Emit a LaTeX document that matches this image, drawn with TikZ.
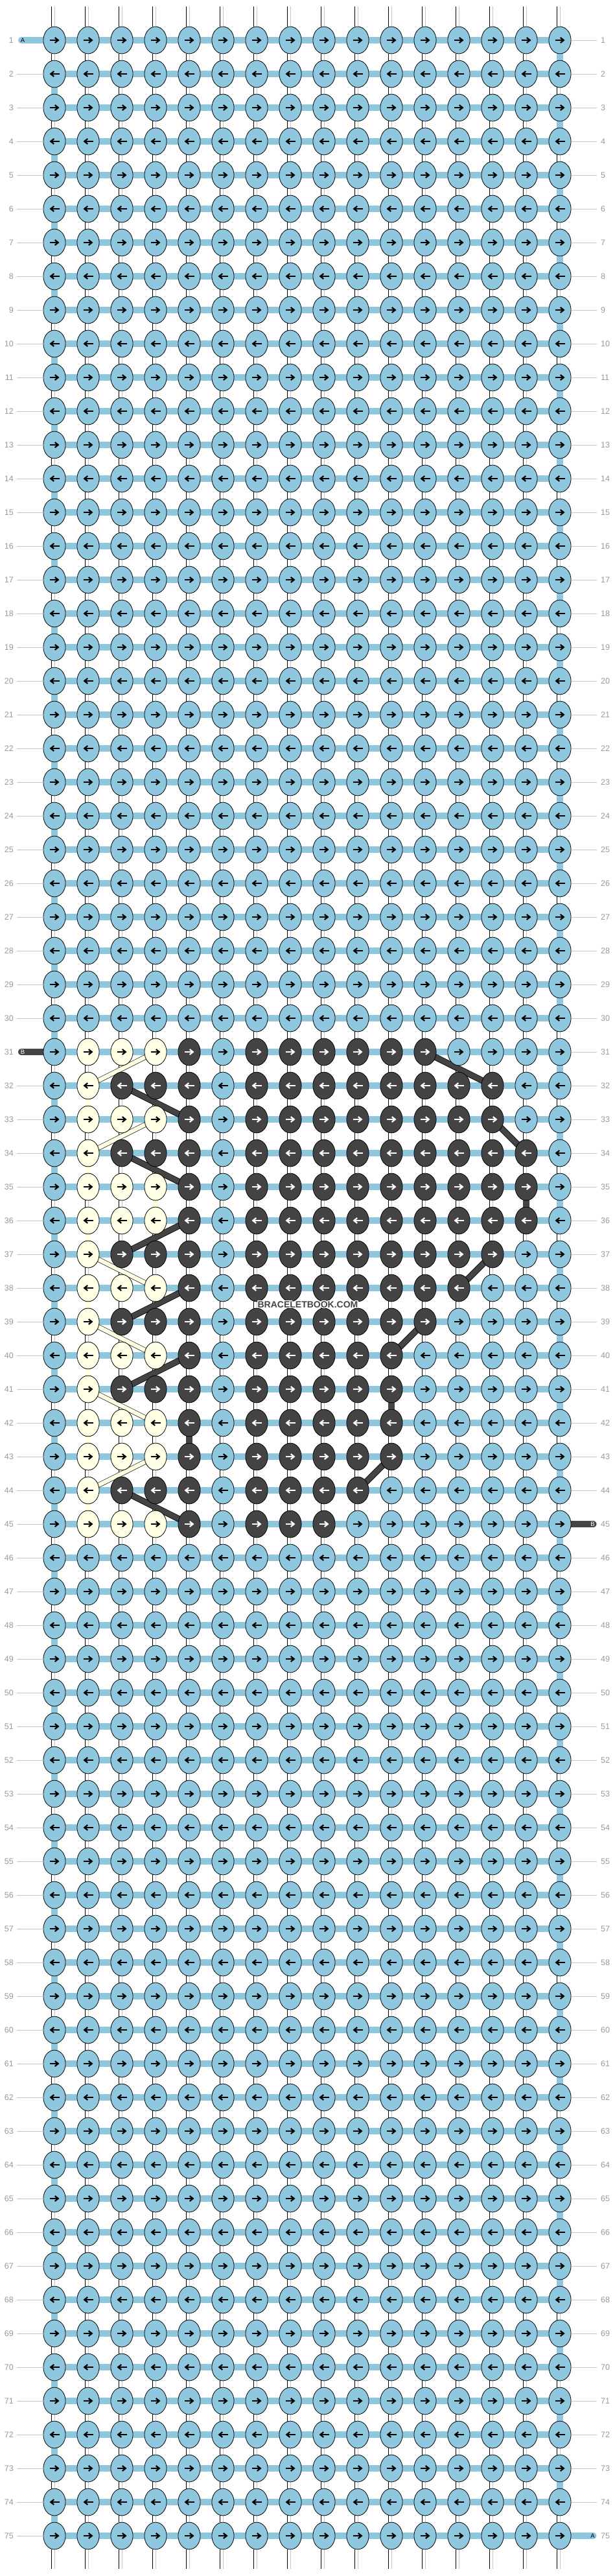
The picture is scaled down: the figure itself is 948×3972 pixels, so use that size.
\documentclass[tikz,border=0pt]{standalone}
\usepackage{fontspec}
\setmainfont{Liberation Sans}
\usepackage{contour}
\usepackage{tikz}
\usetikzlibrary{shapes.geometric,arrows.meta,backgrounds}
\definecolor{threadA}{HTML}{8FC7DE}
\definecolor{threadB}{HTML}{444444}
\definecolor{threadC}{HTML}{FFFFE5}
\definecolor{muted}{HTML}{9A9A9A}
\definecolor{leadline}{HTML}{C4C4C4}
\definecolor{core}{HTML}{C8C8C8}
\contourlength{1.2pt}
\tikzset{
  knot/.style={ellipse, draw=black, line width=0.8pt, minimum width=34.2pt, minimum height=41.8pt, inner sep=0pt},
  kn-b/.style={knot, fill=threadA},
  kn-c/.style={knot, fill=threadC},
  kn-d/.style={knot, fill=threadB},
  arrowline/.style={line width=2.2pt, -{Straight Barb[length=5pt,width=8pt]}},
  arr-b/.style={draw=black},
  arr-c/.style={draw=black},
  arr-d/.style={draw=white},
  bar-b/.style={draw=threadA, line width=9.2pt, preaction={draw=black, line width=10.8pt}},
  bar-c/.style={draw=threadC, line width=9.2pt, preaction={draw=black, line width=10.8pt}},
  bar-d/.style={draw=threadB, line width=9.2pt, preaction={draw=black, line width=10.8pt}},
  strand/.style={draw=white, line width=9pt, preaction={draw=black, line width=10.6pt}, postaction={draw=core, line width=0.9pt}},
  carryB/.style={draw=threadB, line width=8pt, preaction={draw=black, line width=9.6pt}},
  carryC/.style={draw=threadC, line width=6.4pt, preaction={draw=black, line width=7.6pt}},
  lab/.style={text=muted, font=\fontsize{12.5}{12.5}\selectfont, inner sep=0pt},
  leader/.style={draw=leadline, line width=0.9pt},
  tabtxt/.style={font=\fontsize{9.5}{9.5}\selectfont, inner sep=0pt},
}

\begin{document}
\begin{tikzpicture}[x=1pt, y=-1pt]
  \useasboundingbox (0,0) rectangle (948,3972);

  % knot colours of rows 31-45 (b = A, d = B, c = light)
  \foreach \row/\pat in {31/{b,c,c,c,d,b,d,d,d,d,d,d,b,b,b,b},
                         32/{b,c,d,d,d,b,d,d,d,d,d,d,d,d,b,b},
                         33/{b,c,c,c,d,b,d,d,d,d,d,d,d,d,b,b},
                         34/{b,c,d,d,d,b,d,d,d,d,d,d,d,d,d,b},
                         35/{b,c,c,c,d,b,d,d,d,d,d,d,d,d,d,b},
                         36/{b,c,c,c,d,b,d,d,d,d,d,d,d,d,d,b},
                         37/{b,c,d,d,d,b,d,d,d,d,d,d,d,d,b,b},
                         38/{b,c,c,c,d,b,d,d,d,d,d,d,d,b,b,b},
                         39/{b,c,d,d,d,b,d,d,d,d,d,d,b,b,b,b},
                         40/{b,c,c,c,d,b,d,d,d,d,d,b,b,b,b,b},
                         41/{b,c,d,d,d,b,d,d,d,d,d,b,b,b,b,b},
                         42/{b,c,c,c,d,b,d,d,d,d,d,b,b,b,b,b},
                         43/{b,c,c,c,d,b,d,d,d,d,d,b,b,b,b,b},
                         44/{b,c,d,d,d,b,d,d,d,d,b,b,b,b,b,b},
                         45/{b,c,c,c,d,b,d,d,d,b,b,b,b,b,b,b}}
    \foreach \k [count=\col] in \pat
      {\expandafter\xdef\csname kc-\row-\col\endcsname{\k}}

  \foreach \row in {1,...,75}{
    \pgfmathtruncatemacro{\sgn}{2*mod(\row,2)-1}
    \foreach \col in {1,...,16}{
      \ifcsname kc-\row-\col\endcsname
        \edef\kc{\csname kc-\row-\col\endcsname}
      \else
        \def\kc{b}
      \fi
      \node[kn-\kc] (n-\row-\col) at ({84+52*(\col-1)},{62+52*(\row-1)}) {};
      \draw[arrowline, arr-\kc] ([xshift={-7.5*\sgn}]n-\row-\col.center) -- ([xshift={7.5*\sgn}]n-\row-\col.center);
    }
  }

  \begin{scope}[on background layer]
    \fill[white] (0,0) rectangle (948,3972);
    % vertical strings
    \foreach \col in {1,...,16}{
      \coordinate (top-\col) at ({84+52*(\col-1)},10.3);
      \coordinate (end-\col) at ({84+52*(\col-1)},3960.7);
      \draw[strand, line cap=round] (top-\col) -- (n-1-\col) -- (n-75-\col) -- (end-\col);
    }
    % A thread along each row and its turns
    \foreach \row in {1,...,75}
      \draw[bar-b] (n-\row-1.center) -- (n-\row-16.center);
    \foreach \row [evaluate=\row as \nrow using int(\row+1)] in {1,3,...,73}
      \draw[bar-b] (n-\row-16.center) -- (n-\nrow-16.center);
    \foreach \row [evaluate=\row as \nrow using int(\row+1)] in {2,4,...,74}
      \draw[bar-b] (n-\row-1.center) -- (n-\nrow-1.center);
    \foreach \row/\col/\k in {32/2/c,34/2/c,36/2/c,38/2/c,40/2/c,42/2/c,44/2/c,
                              35/4/c,35/15/d,41/11/d,42/5/d}{
      \pgfmathtruncatemacro{\nrow}{\row+1}
      \draw[bar-\k] (n-\row-\col.center) -- (n-\nrow-\col.center);
    }

    \foreach \ra/\ca/\rb/\cb in {32/3/33/5,34/3/35/5,37/3/36/5,39/3/38/5,41/3/40/5,44/3/45/5,
                                31/12/32/14,33/14/34/15,37/14/38/13,39/12/40/11,43/11/44/10}
      \draw[carryB] (n-\ra-\ca.center) -- (n-\rb-\cb.center);
    \foreach \ra/\ca/\rb/\cb in {31/4/32/2,33/4/34/2,37/2/38/4,39/2/40/4,41/2/42/4,43/4/44/2}
      \draw[carryC] (n-\ra-\ca.center) -- (n-\rb-\cb.center);

    \coordinate (tabA-in) at (32.5,62);
    \coordinate (tabB-in) at (32.5,1622);
    \coordinate (tabB-out) at (916,2350);
    \coordinate (tabA-out) at (916,3910);
    \draw[bar-b, line cap=round] (tabA-in) -- (n-1-1.center);
    \draw[bar-d, line cap=round] (tabB-in) -- (n-31-1.center);
    \draw[bar-d, line cap=round] (n-45-16.center) -- (tabB-out);
    \draw[bar-b, line cap=round] (n-75-16.center) -- (tabA-out);
  \end{scope}

  \node[tabtxt] (lblA-in) at (35,62) {A};
  \node[tabtxt, text=white] (lblB-in) at (35,1622) {B};
  \node[tabtxt, text=white] (lblB-out) at (914.5,2350) {B};
  \node[tabtxt] (lblA-out) at (914.5,3910) {A};

  \foreach \row in {1,...,75}{
    \node[lab, anchor=east] (ll-\row) at (21,{62+52*(\row-1)}) {\row};
    \node[lab, anchor=west] (rl-\row) at (927,{62+52*(\row-1)}) {\row};
    \ifnum\row=1 \else\ifnum\row=31 \else
      \draw[leader, shorten <=5pt] (ll-\row) -- (n-\row-1);
    \fi\fi
    \ifnum\row=45 \else\ifnum\row=75 \else
      \draw[leader, shorten >=6pt] (n-\row-16) -- (rl-\row);
    \fi\fi
  }

  \node[font=\fontsize{14}{14}\selectfont\bfseries, text=threadB] (mark) at (475,2012) {\contour{white}{BRACELETBOOK.COM}};
\end{tikzpicture}
\end{document}
